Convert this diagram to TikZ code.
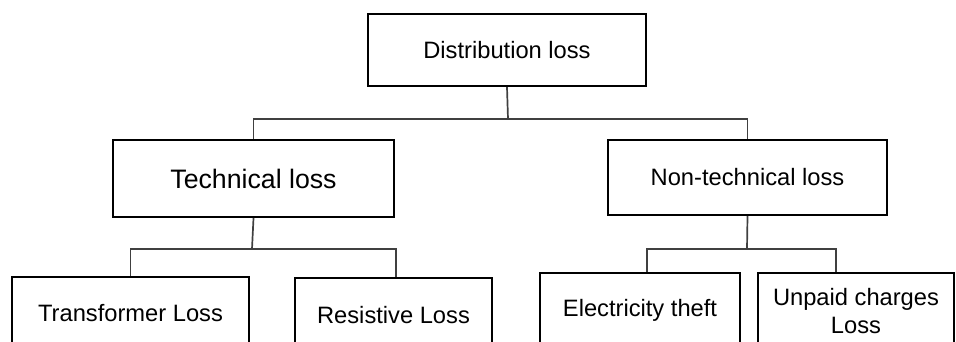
\documentclass[tikz,border=0pt]{standalone}
\usepackage{fontspec}
\setmainfont{Liberation Sans}
\begin{document}
\begin{tikzpicture}[x=1pt,y=-1pt,
  box/.style={draw=black,line width=2.4pt,rectangle,inner sep=0pt,align=center,
    font=\fontsize{23.7}{28.4}\selectfont},
  bigbox/.style={box,font=\fontsize{26.7}{32}\selectfont},
  link/.style={draw=black!75,line width=1.7pt}]
\useasboundingbox (0,0) rectangle (956,342);
\clip (0,0) rectangle (956,342);

% root
\node[box,minimum width=278pt,minimum height=72pt] (root) at (507,50) {Distribution loss};

% second level
\node[bigbox,minimum width=281pt,minimum height=77pt] (tech) at (253.5,178.5) {Technical loss};
\node[box,minimum width=279pt,minimum height=75pt] (ntech) at (747.5,177.5) {Non-technical loss};

% third level (running past the lower edge)
\node[box,minimum width=237pt,minimum height=72pt] (trans) at (130.5,313) {Transformer Loss};
\node[box,minimum width=197pt,minimum height=74pt] (resist) at (393.5,315) {Resistive Loss};
\node[box,minimum width=200pt,minimum height=74pt] (theft) at (640,310) {Electricity theft};
\node[box,minimum width=196pt,minimum height=76pt] (unpaid) at (856,311) {Unpaid charges\\Loss};

% bus points
\coordinate (bus1) at (508,119);
\coordinate (bus2) at (252,249);
\coordinate (bus3) at (747,249);

% connectors
\draw[link] (root.south) -- (bus1);
\draw[link] (tech.north) |- (bus1) -| (ntech.north);

\draw[link] (tech.south) -- (bus2);
\draw[link] (trans.north) |- (bus2) -| ([xshift=2.5pt]resist.north);

\draw[link] (ntech.south) -- (bus3);
\draw[link] ([xshift=7pt]theft.north) |- (bus3) -| ([xshift=-20pt]unpaid.north);
\end{tikzpicture}
\end{document}
